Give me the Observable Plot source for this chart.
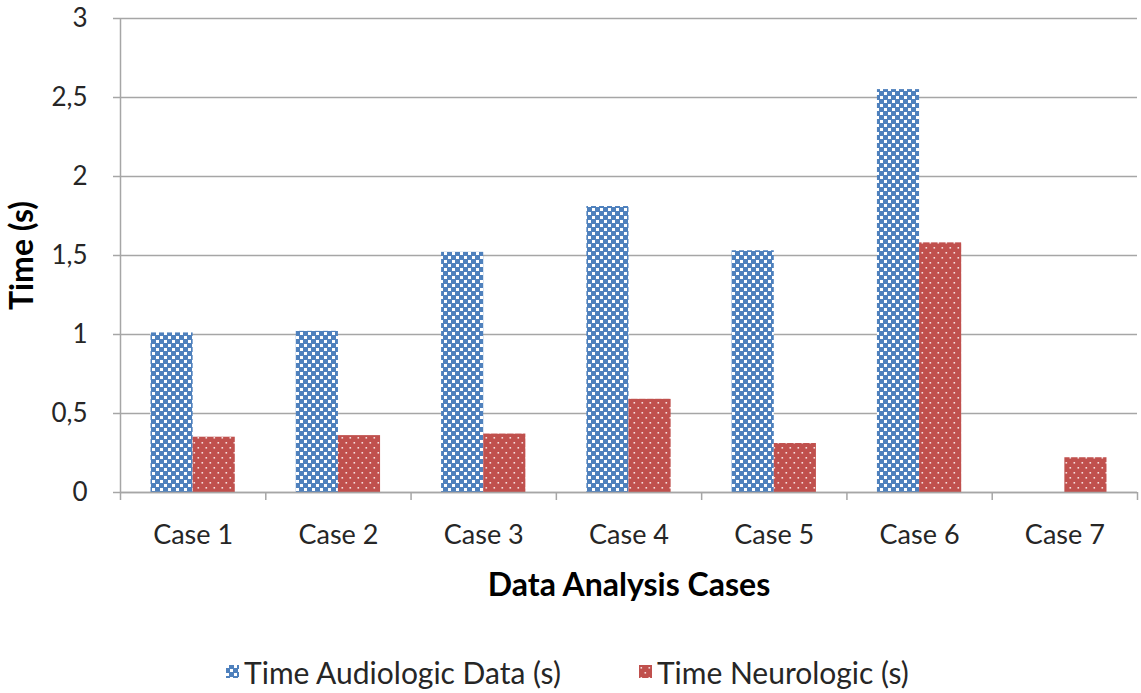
<!DOCTYPE html>
<html>
<head>
<meta charset="utf-8">
<script src="https://cdn.jsdelivr.net/npm/d3@7"></script>
<script src="https://cdn.jsdelivr.net/npm/@observablehq/plot@0.6"></script>
<style>
  body { margin: 0; background: #fff; font-family: Lato, "Open Sans", sans-serif; }
  #chart svg { font-family: Lato, "Open Sans", sans-serif; }
  #legend { display: flex; justify-content: center; align-items: center; gap: 78px; height: 73px; padding-top: 30px; box-sizing: border-box; font-size: 30px; color: #262626; padding-right: 6px; }
  #legend .item { display: flex; align-items: center; gap: 5px; }
  #legend svg { display: block; }
</style>
</head>
<body>
<div id="chart"></div>
<div id="legend"></div>
<script>
const cases = ["Case 1", "Case 2", "Case 3", "Case 4", "Case 5", "Case 6", "Case 7"];
const audiologic = [1.01, 1.02, 1.52, 1.81, 1.53, 2.55, 0];
const neurologic = [0.35, 0.36, 0.37, 0.59, 0.31, 1.58, 0.22];
const seriesNames = ["Time Audiologic Data (s)", "Time Neurologic (s)"];
const yTicks = [0, 0.5, 1, 1.5, 2, 2.5, 3];

const blue = "#4f81bd";
const red = "#c0504d";
const barHalf = 0.29;

const rows = [];
cases.forEach((c, i) => {
  rows.push({series: seriesNames[0], x1: i + 1 - barHalf, x2: i + 1, value: audiologic[i], fill: "url(#pat-audio)"});
  rows.push({series: seriesNames[1], x1: i + 1, x2: i + 1 + barHalf, value: neurologic[i], fill: "url(#pat-neuro)"});
});
const casePositions = cases.map((c, i) => i + 1);
const boundaries = d3.range(0.5, cases.length + 1, 1);

function patternDefs() {
  const defs = d3.create("svg:defs");
  const pa = defs.append("pattern").attr("id", "pat-audio").attr("patternUnits", "userSpaceOnUse").attr("width", 8).attr("height", 8);
  pa.append("rect").attr("width", 8).attr("height", 8).attr("fill", blue);
  pa.append("rect").attr("x", 0).attr("y", 0).attr("width", 3).attr("height", 3).attr("fill", "#ffffff");
  pa.append("rect").attr("x", 4).attr("y", 4).attr("width", 3).attr("height", 3).attr("fill", "#ffffff");
  const pn = defs.append("pattern").attr("id", "pat-neuro").attr("patternUnits", "userSpaceOnUse").attr("width", 8).attr("height", 10);
  pn.append("rect").attr("width", 8).attr("height", 10).attr("fill", red);
  pn.append("rect").attr("x", 1.5).attr("y", 2).attr("width", 1.6).attr("height", 1.6).attr("fill", "#f6dede");
  pn.append("rect").attr("x", 5.5).attr("y", 7).attr("width", 1.6).attr("height", 1.6).attr("fill", "#f6dede");
  return defs.node();
}

const chart = Plot.plot({
  width: 1141,
  height: 620,
  marginLeft: 120,
  marginRight: 4,
  marginTop: 18,
  marginBottom: 128,
  style: {fontFamily: "Lato, 'Open Sans', sans-serif", fontSize: "27px", color: "#262626", background: "#fff"},
  x: {domain: [0.5, cases.length + 0.5]},
  y: {domain: [0, 3]},
  marks: [
    patternDefs,
    Plot.gridY(yTicks, {stroke: "#a6a6a6", strokeWidth: 1.5, strokeOpacity: 1}),
    Plot.rectY(rows.filter(d => d.value > 0), {x1: "x1", x2: "x2", y: "value", fill: "fill"}),
    Plot.ruleY([0], {stroke: "#a6a6a6", strokeWidth: 1.5}),
    Plot.ruleX([0.5], {stroke: "#a6a6a6", strokeWidth: 1.5}),
    Plot.axisY(yTicks, {
      tickSize: 7, tickPadding: 26, stroke: "#a6a6a6", strokeWidth: 1.5,
      tickFormat: d => String(d).replace(".", ","), fontSize: 26,
      label: null, fill: "#262626"
    }),
    Plot.axisX(boundaries, {tickSize: 8, tickFormat: () => "", stroke: "#a6a6a6", strokeWidth: 1.5, label: null}),
    Plot.axisX(casePositions, {tickSize: 0, tickPadding: 32, tickFormat: d => cases[d - 1], label: null, fill: "#262626"}),
    Plot.text(["Data Analysis Cases"], {frameAnchor: "bottom", dy: 93, lineAnchor: "middle", textAnchor: "middle", fontWeight: "bold", fontSize: 32, fill: "#000"}),
    Plot.text(["Time (s)"], {frameAnchor: "left", dx: -98, rotate: -90, lineAnchor: "middle", textAnchor: "middle", fontWeight: "bold", fontSize: 32, fill: "#000"})
  ]
});
document.getElementById("chart").appendChild(chart);

const legend = document.getElementById("legend");
[["pat-audio", seriesNames[0]], ["pat-neuro", seriesNames[1]]].forEach(([pid, name]) => {
  const item = document.createElement("div");
  item.className = "item";
  const sw = d3.create("svg").attr("width", 13).attr("height", 13);
  sw.append("rect").attr("width", 13).attr("height", 13).attr("fill", `url(#${pid})`);
  item.appendChild(sw.node());
  const t = document.createElement("span");
  t.textContent = name;
  item.appendChild(t);
  legend.appendChild(item);
});
</script>
</body>
</html>
